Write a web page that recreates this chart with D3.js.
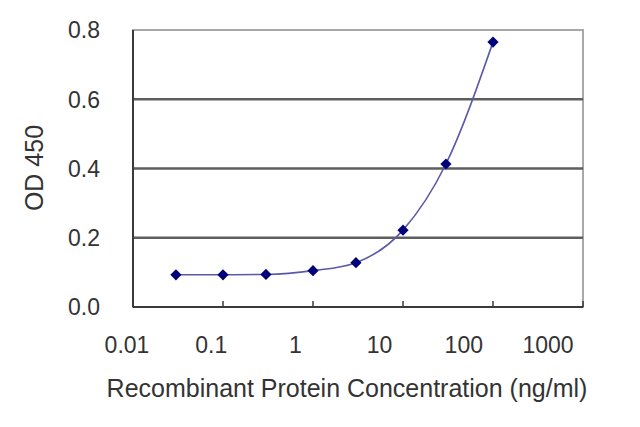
<!DOCTYPE html>
<html>
<head>
<meta charset="utf-8">
<script src="https://cdn.jsdelivr.net/npm/d3@7"></script>
<style>
  body { margin: 0; background: #fff; }
  text { font-family: "Liberation Sans", Arial, sans-serif; fill: #333; }
</style>
</head>
<body>
<div id="viz"></div>
<script>
var concentrations = [0.03, 0.1, 0.3, 1, 3, 10, 30, 100],
    odValues = [0.093, 0.093, 0.094, 0.105, 0.128, 0.222, 0.413, 0.765],
    xTicks = [0.01, 0.1, 1, 10, 100, 1000],
    yTicks = [0, 0.2, 0.4, 0.6, 0.8];

var width = 640, height = 427,
    plotLeft = 133, plotRight = 583, plotTop = 30, plotBottom = 307;

var svg = d3.select("#viz")
    .append("svg")
    .attr("width", width)
    .attr("height", height);

var x = d3.scaleLog().domain([0.01, 1000]).range([plotLeft, plotRight]);
// tick labels in the original sit on a slightly narrower spread than the ticks
var xLab = d3.scaleLog().domain([0.01, 1000]).range([127, 548]);
var y = d3.scaleLinear().domain([0, 0.8]).range([plotBottom, plotTop]);

// frame top/right
svg.append("rect")
    .attr("x", plotLeft).attr("y", plotTop)
    .attr("width", plotRight - plotLeft).attr("height", plotBottom - plotTop)
    .style("fill", "white")
    .style("stroke", "#a8a8a8")
    .style("stroke-width", 2);

// gridlines
svg.selectAll("line.grid")
    .data(yTicks.filter(function(d){ return d > 0 && d < 0.8; }))
    .enter().append("line")
    .attr("class", "grid")
    .attr("x1", plotLeft).attr("x2", plotRight)
    .attr("y1", function(d){ return y(d); })
    .attr("y2", function(d){ return y(d); })
    .style("stroke", "#5e5e5e")
    .style("stroke-width", 2.5);

// left and bottom axis lines
svg.append("line")
    .attr("x1", plotLeft).attr("x2", plotLeft).attr("y1", plotTop).attr("y2", plotBottom)
    .style("stroke", "#3a3a3a").style("stroke-width", 2);
svg.append("line")
    .attr("x1", plotLeft).attr("x2", plotRight).attr("y1", plotBottom).attr("y2", plotBottom)
    .style("stroke", "#3a3a3a").style("stroke-width", 2);

// x ticks (inward)
svg.selectAll("line.xtick")
    .data(xTicks)
    .enter().append("line")
    .attr("class", "xtick")
    .attr("x1", function(d){ return x(d); })
    .attr("x2", function(d){ return x(d); })
    .attr("y1", plotBottom).attr("y2", plotBottom - 6)
    .style("stroke", "#3a3a3a").style("stroke-width", 1.5);

svg.selectAll("text.xlabel")
    .data(xTicks)
    .enter().append("text")
    .attr("class", "xlabel")
    .attr("x", function(d){ return xLab(d); })
    .attr("y", 353)
    .attr("text-anchor", "middle")
    .style("font-size", "23px")
    .text(function(d){ return String(d); });

svg.selectAll("text.ylabel")
    .data(yTicks)
    .enter().append("text")
    .attr("class", "ylabel")
    .attr("x", 100)
    .attr("y", function(d){ return y(d); })
    .attr("dy", "0.36em")
    .attr("text-anchor", "end")
    .style("font-size", "23px")
    .text(function(d){ return d.toFixed(1); });

svg.append("text")
    .attr("transform", "translate(43,168) rotate(-90)")
    .attr("text-anchor", "middle")
    .style("font-size", "25px")
    .text("OD 450");

svg.append("text")
    .attr("x", 347)
    .attr("y", 397)
    .attr("text-anchor", "middle")
    .style("font-size", "25px")
    .text("Recombinant Protein Concentration (ng/ml)");

// curve
var points = concentrations.map(function(c, i){ return [c, odValues[i]]; });

var line = d3.line()
    .x(function(d){ return x(d[0]); })
    .y(function(d){ return y(d[1]); })
    .curve(d3.curveMonotoneX);

svg.append("path")
    .datum(points)
    .attr("d", line)
    .style("fill", "none")
    .style("stroke", "#5a5aa8")
    .style("stroke-width", 1.6);

svg.selectAll("path.pt")
    .data(points)
    .enter().append("path")
    .attr("class", "pt")
    .attr("d", d3.symbol().type(d3.symbolDiamond2).size(80))
    .attr("transform", function(d){ return "translate(" + x(d[0]) + "," + y(d[1]) + ")"; })
    .style("fill", "#00007a");
</script>
</body>
</html>
